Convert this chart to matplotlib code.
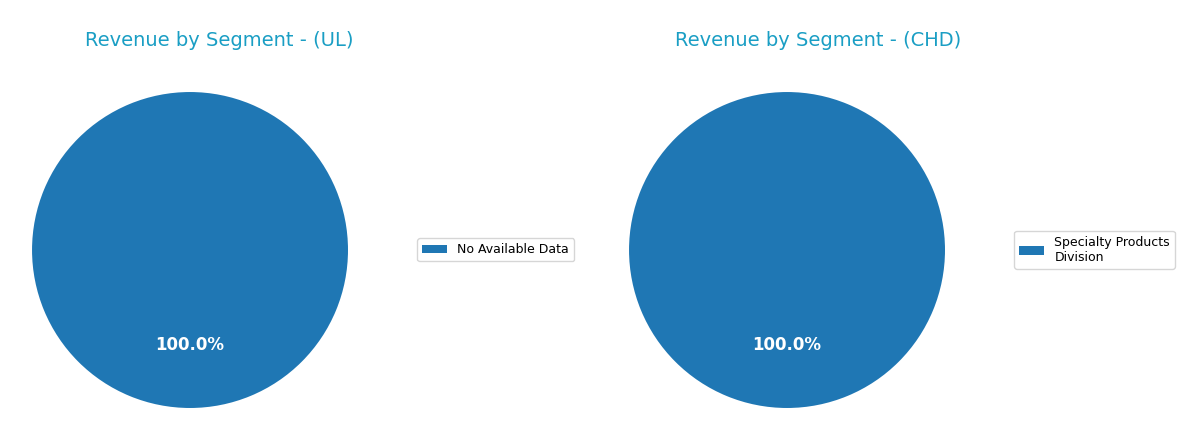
import matplotlib.pyplot as plt

# data
ul_labels = ['No Available Data']
ul_values = [1]
chd_labels = ['Specialty Products\nDivision']
chd_values = [1]

title_color = '#1a9ec4'
pie_color = '#1f77b4'

fig = plt.figure(figsize=(12, 4.4), dpi=100)

panels = [(0.0267, 0.3425, 0.183, ul_labels, ul_values, 'UL'),
          (0.5242, 0.84, 0.6817, chd_labels, chd_values, 'CHD')]

for left, leg_x, title_x, labels, values, name in panels:
    ax = fig.add_axes([left, 0.0727, 0.2633, 0.7182])
    wedges, texts, autotexts = ax.pie(values, colors=[pie_color], autopct='%1.1f%%',
                                      startangle=90,
                                      textprops={'color': 'white', 'fontsize': 12, 'fontweight': 'bold'})
    ax.set_xlim(-1, 1)
    ax.set_ylim(-1, 1)
    fig.text(title_x, 0.909, 'Revenue by Segment - (' + name + ')', color=title_color,
             fontsize=14, ha='center', va='center')
    fig.legend(wedges, labels, loc='center left', bbox_to_anchor=(leg_x, 0.432), fontsize=9)

fig.savefig('out.png')
